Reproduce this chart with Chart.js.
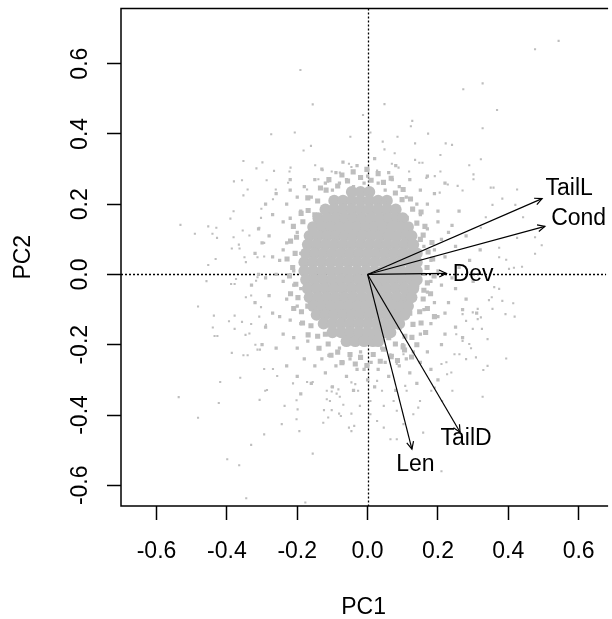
<!DOCTYPE html>
<html>
<head>
<meta charset="utf-8">
<script src="https://cdn.jsdelivr.net/npm/chart.js@4/dist/chart.umd.min.js"></script>
<style>
  html, body { margin: 0; padding: 0; background: #fff; }
</style>
</head>
<body>
<canvas id="biplot" width="612" height="619"></canvas>
<script>
// axis ranges and ticks
const pc1Range = [-0.701, 0.678];
const pc2Range = [-0.659, 0.757];
const pc1Ticks = [-0.6, -0.4, -0.2, 0.0, 0.2, 0.4, 0.6];
const pc2Ticks = [-0.6, -0.4, -0.2, 0.0, 0.2, 0.4, 0.6];

// loadings (arrows) and where their names sit
const varNames = ['TailL', 'Cond', 'Dev', 'TailD', 'Len'];
const loadPC1 = [0.496, 0.504, 0.224, 0.263, 0.126];
const loadPC2 = [0.216, 0.137, 0.003, -0.449, -0.497];
const labelPC1 = [0.573, 0.600, 0.300, 0.280, 0.136];
const labelPC2 = [0.243, 0.158, -0.001, -0.466, -0.542];

// dense middle of the score cloud, one row per PC2 level
const coreRowPC2 = [0.235, 0.21, 0.185, 0.16, 0.135, 0.11, 0.085, 0.06, 0.035, 0.01,
  -0.015, -0.04, -0.065, -0.09, -0.115, -0.14, -0.165, -0.19];
const coreRowPC1 = [
  [-0.045, -0.02, 0.005],
  [-0.095, -0.07, -0.045, -0.02, 0.005, 0.03, 0.055],
  [-0.12, -0.095, -0.07, -0.045, -0.02, 0.005, 0.03, 0.055, 0.08],
  [-0.14, -0.115, -0.09, -0.065, -0.04, -0.015, 0.01, 0.035, 0.06, 0.085, 0.1],
  [-0.155, -0.13, -0.105, -0.08, -0.055, -0.03, -0.005, 0.02, 0.045, 0.07, 0.095, 0.115],
  [-0.165, -0.14, -0.115, -0.09, -0.065, -0.04, -0.015, 0.01, 0.035, 0.06, 0.085, 0.11, 0.125],
  [-0.17, -0.145, -0.12, -0.095, -0.07, -0.045, -0.02, 0.005, 0.03, 0.055, 0.08, 0.105, 0.13],
  [-0.175, -0.15, -0.125, -0.1, -0.075, -0.05, -0.025, 0.0, 0.025, 0.05, 0.075, 0.1, 0.125, 0.14],
  [-0.18, -0.155, -0.13, -0.105, -0.08, -0.055, -0.03, -0.005, 0.02, 0.045, 0.07, 0.095, 0.12, 0.14],
  [-0.18, -0.155, -0.13, -0.105, -0.08, -0.055, -0.03, -0.005, 0.02, 0.045, 0.07, 0.095, 0.12, 0.14],
  [-0.175, -0.15, -0.125, -0.1, -0.075, -0.05, -0.025, 0.0, 0.025, 0.05, 0.075, 0.1, 0.125, 0.14],
  [-0.17, -0.145, -0.12, -0.095, -0.07, -0.045, -0.02, 0.005, 0.03, 0.055, 0.08, 0.105, 0.13],
  [-0.165, -0.14, -0.115, -0.09, -0.065, -0.04, -0.015, 0.01, 0.035, 0.06, 0.085, 0.11, 0.125],
  [-0.155, -0.13, -0.105, -0.08, -0.055, -0.03, -0.005, 0.02, 0.045, 0.07, 0.095, 0.115],
  [-0.145, -0.12, -0.095, -0.07, -0.045, -0.02, 0.005, 0.03, 0.055, 0.08, 0.105],
  [-0.125, -0.1, -0.075, -0.05, -0.025, 0.0, 0.025, 0.05, 0.075, 0.09],
  [-0.1, -0.075, -0.05, -0.025, 0.0, 0.025, 0.05, 0.065],
  [-0.06, -0.035, -0.01, 0.015, 0.03]
];

// thick band of scores right at the edge of the dense middle
const rimScores = [
  [0.169,0.02],[0.172,0.064],[0.158,0.112],[0.140,0.146],[0.128,0.186],[0.098,0.213],[0.079,0.232],
  [0.045,0.262],[0.010,0.268],[-0.02,0.276],[-0.057,0.266],[-0.085,0.252],[-0.118,0.240],[-0.142,0.209],
  [-0.169,0.182],[-0.184,0.150],[-0.202,0.106],[-0.206,0.060],[-0.213,0.02],[-0.204,-0.028],[-0.198,-0.066],
  [-0.188,-0.106],[-0.161,-0.146],[-0.142,-0.176],[-0.112,-0.198],[-0.085,-0.221],[-0.050,-0.228],
  [-0.02,-0.236],[0.016,-0.228],[0.045,-0.213],[0.079,-0.198],[0.106,-0.176],[0.129,-0.142],[0.148,-0.106],
  [0.158,-0.070],[0.170,-0.024],
  [0.185,0.044],[0.183,0.091],[0.163,0.137],[0.152,0.178],[0.122,0.215],[0.101,0.242],[0.067,0.274],
  [0.030,0.287],[-0.002,0.299],[-0.041,0.292],[-0.073,0.283],[-0.110,0.270],[-0.134,0.246],[-0.170,0.218],
  [-0.189,0.174],[-0.211,0.137],[-0.219,0.095],[-0.229,0.044],[-0.222,-0.004],[-0.219,-0.055],[-0.210,-0.097],
  [-0.185,-0.138],[-0.169,-0.172],[-0.138,-0.210],[-0.104,-0.230],[-0.073,-0.251],[-0.035,-0.255],
  [-0.002,-0.259],[0.036,-0.247],[0.067,-0.234],[0.101,-0.206],[0.126,-0.179],[0.152,-0.138],[0.170,-0.097],
  [0.179,-0.055],[0.189,-0.004],
  [0.125,0.05],[0.140,-0.03],[0.110,0.16],[0.06,0.215],[-0.100,0.215],[-0.160,0.12],[-0.170,-0.09],
  [-0.120,-0.170],[0.060,-0.180],[0.120,-0.110],[0.150,0.10],[-0.150,0.170],[0.090,-0.150],[0.160,-0.045],
  [0.105,-0.215],[0.125,-0.235],[0.140,-0.200],[0.165,-0.165],[0.085,-0.245],[0.190,-0.120]
];

// ring of scores around the dense middle
const haloScores = [
  [-0.18,0.25],[-0.15,0.27],[-0.12,0.26],[-0.09,0.29],[-0.06,0.27],[-0.03,0.31],[0.0,0.28],[0.03,0.26],
  [0.06,0.29],[0.09,0.25],[0.12,0.27],[0.15,0.24],[-0.20,0.22],[-0.13,0.30],[-0.07,0.32],[0.02,0.33],
  [0.08,0.31],[0.17,0.28],[-0.04,0.25],[0.05,0.24],[-0.10,0.24],[0.11,0.22],[-0.16,0.22],[0.14,0.20],
  [0.19,0.23],[-0.22,0.27],[0.22,0.26],[-0.01,0.26],[-0.08,0.26],[0.07,0.27],
  [0.15,0.17],[0.17,0.13],[0.16,0.08],[0.18,0.04],[0.16,0.0],[0.17,-0.05],[0.16,-0.10],[0.18,-0.14],
  [0.15,-0.17],[0.20,0.18],[0.21,0.10],[0.22,0.05],[0.20,0.01],[0.21,-0.03],[0.23,-0.08],[0.20,-0.12],
  [0.22,-0.17],[0.24,0.14],[0.25,0.08],[0.26,0.02],[0.25,-0.04],[0.27,-0.10],[0.25,-0.15],[0.28,0.11],
  [0.29,0.04],[0.30,-0.02],[0.28,-0.07],[0.19,0.07],[0.23,0.12],[0.19,-0.08],[0.24,-0.01],[0.17,0.20],
  [0.21,-0.20],[0.26,0.18],[0.27,-0.18],[0.32,0.07],[0.31,-0.11],[0.18,-0.02],[0.20,0.15],[0.22,-0.11],
  [-0.19,0.18],[-0.20,0.12],[-0.19,0.06],[-0.21,0.01],[-0.19,-0.04],[-0.20,-0.09],[-0.19,-0.14],[-0.21,-0.18],
  [-0.23,0.20],[-0.24,0.15],[-0.23,0.09],[-0.25,0.04],[-0.24,-0.02],[-0.23,-0.07],[-0.25,-0.12],[-0.24,-0.17],
  [-0.27,0.17],[-0.28,0.11],[-0.27,0.05],[-0.29,-0.01],[-0.28,-0.06],[-0.27,-0.11],[-0.29,-0.15],[-0.31,0.13],
  [-0.32,0.06],[-0.31,0.00],[-0.32,-0.08],[-0.30,-0.20],[-0.26,-0.21],[-0.22,0.24],[-0.26,0.23],[-0.21,-0.03],
  [-0.22,0.16],[-0.20,-0.21],[-0.26,0.00],[-0.30,0.09],[-0.24,0.07],[-0.22,-0.13],[-0.33,-0.03],[-0.29,0.20],
  [-0.17,-0.19],[-0.14,-0.21],[-0.11,-0.23],[-0.08,-0.21],[-0.05,-0.24],[-0.02,-0.22],[0.01,-0.25],[0.04,-0.21],
  [0.07,-0.23],[0.10,-0.20],[0.13,-0.22],[-0.18,-0.24],[-0.15,-0.26],[-0.12,-0.28],[-0.09,-0.26],[-0.06,-0.29],
  [-0.03,-0.27],[0.00,-0.30],[0.03,-0.27],[0.06,-0.29],[0.09,-0.26],[0.12,-0.28],[0.15,-0.25],[-0.16,-0.31],
  [-0.10,-0.32],[-0.04,-0.33],[0.02,-0.32],[0.08,-0.33],[0.14,-0.31],[0.18,-0.27],[-0.20,-0.29],[-0.13,-0.24],
  [-0.07,-0.25],[0.05,-0.25],[0.11,-0.24],[-0.01,-0.27],[-0.19,-0.34],[0.17,-0.22],[-0.23,-0.26],[0.20,-0.30]
];

// scattered scores read one by one
const outerScores = [
  [-0.191,0.582],[-0.156,0.484],[-0.013,0.454],[-0.274,0.399],[-0.207,0.404],[-0.049,0.392],[-0.161,0.366],
  [-0.182,0.353],[-0.353,0.323],[-0.299,0.319],[-0.316,0.302],[-0.149,0.311],[-0.053,0.315],[-0.266,0.295],
  [-0.219,0.304],[-0.222,0.293],[-0.128,0.297],[-0.102,0.293],[-0.079,0.290],[-0.046,0.306],[-0.380,0.265],
  [-0.357,0.268],[-0.287,0.268],[-0.226,0.261],[-0.140,0.271],[-0.112,0.264],[-0.341,0.242],[-0.353,0.225],
  [-0.261,0.242],[-0.269,0.214],[-0.172,0.242],[-0.381,0.180],[-0.390,0.159],[-0.302,0.187],[-0.532,0.141],
  [-0.491,0.116],[-0.453,0.137],[-0.430,0.133],[-0.441,0.116],[-0.428,0.104],[-0.381,0.106],[-0.355,0.125],
  [-0.336,0.111],[-0.386,0.074],[-0.366,0.085],[-0.364,0.074],[-0.294,0.090],[-0.303,0.161],[-0.308,0.133],
  [0.543,0.665],[0.476,0.641],[0.327,0.544],[0.272,0.527],[0.048,0.485],[0.368,0.468],[0.127,0.437],
  [0.123,0.422],[0.327,0.416],[0.008,0.404],[0.085,0.392],[0.172,0.401],[0.043,0.378],[0.048,0.356],
  [0.135,0.373],[0.222,0.373],[0.240,0.369],[0.077,0.345],[0.207,0.340],[0.135,0.326],[0.147,0.318],
  [0.156,0.318],[0.322,0.328],[0.289,0.311],[0.069,0.315],[0.088,0.304],[0.027,0.296],[0.118,0.293],
  [0.207,0.293],[0.301,0.285],[0.301,0.271],[0.167,0.275],[0.191,0.280],[0.350,0.247],[0.358,0.247],
  [0.425,0.242],[0.383,0.216],[0.270,0.239],[0.228,0.256],[0.256,0.252],[0.205,0.233],[0.355,0.198],
  [0.420,0.198],[0.442,0.163],[0.495,0.083],[0.476,0.106],[0.425,0.104],[0.374,0.076],[0.336,0.163],
  [0.322,0.133],
  [-0.432,0.044],[-0.453,0.027],[-0.458,-0.019],[-0.350,0.049],[-0.346,0.035],[-0.313,0.049],[-0.294,0.051],
  [-0.388,-0.027],[-0.378,-0.027],[-0.374,-0.013],[-0.317,-0.018],[-0.313,-0.008],[-0.346,-0.065],[-0.331,-0.060],
  [-0.482,-0.091],[-0.437,-0.117],[-0.394,-0.133],[-0.378,-0.117],[-0.357,-0.135],[-0.440,-0.151],[-0.435,-0.175],
  [-0.427,-0.175],[-0.378,-0.155],[-0.347,-0.172],[-0.336,-0.168],[-0.331,-0.141],[-0.303,-0.093],[-0.308,-0.120],
  [-0.289,-0.143],[-0.319,-0.200],[-0.313,-0.214],[-0.306,-0.214],[-0.386,-0.223],[-0.353,-0.230],[-0.341,-0.230],
  [-0.294,-0.269],[-0.269,-0.269],[-0.257,-0.289],[-0.362,-0.294],[-0.419,-0.306],[-0.537,-0.349],[-0.423,-0.366],
  [-0.482,-0.408],[-0.291,-0.331],[-0.286,-0.329],[-0.307,-0.357],[-0.236,-0.374],[-0.244,-0.426],[-0.294,-0.455],
  [-0.331,-0.485],[-0.399,-0.526],[-0.365,-0.543],[-0.345,-0.637],[-0.177,-0.649],[-0.156,-0.510],[-0.194,-0.446],
  [-0.202,-0.358],[-0.199,-0.384],[-0.202,-0.412],[-0.212,-0.310],[-0.172,-0.306],[-0.156,-0.306],[-0.126,-0.422],
  [-0.112,-0.407],[-0.124,-0.386],[-0.102,-0.386],[-0.116,-0.331],[-0.102,-0.333],[-0.088,-0.339],[-0.116,-0.355],
  [-0.107,-0.360],[-0.102,-0.320],[-0.083,-0.327],[-0.079,-0.348],[-0.081,-0.396],[-0.076,-0.403],[-0.069,-0.371],
  [-0.046,-0.396],[-0.053,-0.436],[-0.046,-0.446],[-0.038,-0.431],[-0.022,-0.374],[-0.027,-0.331],[-0.046,-0.307],
  [-0.035,-0.312],
  [0.414,-0.082],[0.418,-0.120],[0.392,-0.113],[0.394,-0.239],[0.327,-0.348],[0.241,-0.331],[0.341,-0.260],
  [0.329,-0.272],[0.308,-0.236],[0.294,-0.210],[0.341,-0.184],[0.325,-0.155],[0.313,-0.127],[0.322,-0.122],
  [0.355,-0.098],[0.360,-0.036],[0.374,-0.041],[0.383,-0.075],[0.439,0.022],[0.416,0.019],[0.402,0.016],
  [0.394,0.042],[0.374,0.049],[0.345,-0.073],[0.353,-0.065],[0.210,-0.560],[0.158,-0.450],[0.083,-0.469],
  [0.065,-0.469],[0.046,-0.436],[0.027,-0.417],[0.008,-0.398],[0.008,-0.360],[0.149,-0.360],[0.144,-0.379],
  [0.130,-0.398],[0.212,-0.360],[0.181,-0.331],[0.191,-0.322],[0.226,-0.284],[0.238,-0.279],[0.210,-0.255],
  [0.224,-0.250],[0.247,-0.227],[0.261,-0.227],[0.280,-0.241],[0.270,-0.189],[0.289,-0.198],[0.299,-0.155],
  [0.252,-0.170],[0.299,-0.108],[0.313,-0.098],[0.270,-0.113],[0.280,-0.132],[0.102,-0.227],[0.083,-0.255],
  [0.065,-0.227],[0.107,-0.317],[0.111,-0.331],[0.074,-0.360],[0.046,-0.374],[0.083,-0.388],[0.041,-0.331],
  [0.027,-0.303],[0.102,-0.426],[0.476,0.059]
];

const FONT = 'Liberation Sans, Arial, sans-serif';
const GREY = '#bebebe';

function toPoints(pairs) {
  return pairs.map(p => ({ x: p[0], y: p[1] }));
}

function corePoints() {
  const pts = [];
  coreRowPC2.forEach((y, i) => {
    coreRowPC1[i].forEach(x => pts.push({ x: x, y: y }));
  });
  return pts;
}

// dotted lines through the origin, under the points
const zeroLines = {
  id: 'zeroLines',
  beforeDatasetsDraw(chart) {
    const { ctx, chartArea: a, scales: { x, y } } = chart;
    const x0 = Math.round(x.getPixelForValue(0)) + 0.5;
    const y0 = Math.round(y.getPixelForValue(0)) + 0.5;
    ctx.save();
    ctx.strokeStyle = '#000';
    ctx.lineWidth = 1.3;
    ctx.setLineDash([2, 2]);
    ctx.beginPath();
    ctx.moveTo(a.left, y0); ctx.lineTo(a.right, y0);
    ctx.moveTo(x0, a.top); ctx.lineTo(x0, a.bottom);
    ctx.stroke();
    ctx.restore();
  }
};

// arrow heads, variable names and the box (right side falls off the picture)
const biplotExtras = {
  id: 'biplotExtras',
  afterDatasetsDraw(chart) {
    const { ctx, chartArea: a, scales: { x, y } } = chart;
    ctx.save();
    ctx.strokeStyle = '#000';
    ctx.lineWidth = 1.2;
    const ox = x.getPixelForValue(0);
    const oy = y.getPixelForValue(0);
    varNames.forEach((name, i) => {
      const px = x.getPixelForValue(loadPC1[i]);
      const py = y.getPixelForValue(loadPC2[i]);
      const ang = Math.atan2(py - oy, px - ox);
      const len = 8, spread = Math.PI / 7;
      ctx.beginPath();
      ctx.moveTo(px - len * Math.cos(ang - spread), py - len * Math.sin(ang - spread));
      ctx.lineTo(px, py);
      ctx.lineTo(px - len * Math.cos(ang + spread), py - len * Math.sin(ang + spread));
      ctx.stroke();
    });
    ctx.fillStyle = '#000';
    ctx.font = '23px ' + FONT;
    ctx.textAlign = 'center';
    ctx.textBaseline = 'middle';
    varNames.forEach((name, i) => {
      ctx.fillText(name, x.getPixelForValue(labelPC1[i]), y.getPixelForValue(labelPC2[i]));
    });
    ctx.lineWidth = 1.5;
    ctx.beginPath();
    ctx.moveTo(a.right + 2, a.top);
    ctx.lineTo(a.left, a.top);
    ctx.lineTo(a.left, a.bottom);
    ctx.lineTo(a.right + 2, a.bottom);
    ctx.stroke();
    ctx.restore();
  }
};

const arrowSets = varNames.map((name, i) => ({
  label: name,
  data: [{ x: 0, y: 0 }, { x: loadPC1[i], y: loadPC2[i] }],
  showLine: true,
  borderColor: '#000',
  borderWidth: 1.2,
  pointRadius: 0,
  order: 0
}));

new Chart(document.getElementById('biplot'), {
  type: 'scatter',
  data: {
    datasets: arrowSets.concat([
      { label: 'scores', data: toPoints(outerScores), pointStyle: 'rect', pointRadius: 1.5,
        pointBorderWidth: 0, backgroundColor: GREY, order: 1 },
      { label: 'scores', data: toPoints(haloScores), pointStyle: 'rect', pointRadius: 2.3,
        pointBorderWidth: 0, backgroundColor: GREY, order: 2 },
      { label: 'scores', data: toPoints(rimScores), pointStyle: 'rect', pointRadius: 3.6,
        pointBorderWidth: 0, backgroundColor: GREY, order: 3 },
      { label: 'scores', data: corePoints(), pointStyle: 'circle', pointRadius: 5.9,
        pointBorderWidth: 0, backgroundColor: GREY, order: 4 }
    ])
  },
  options: {
    responsive: false,
    animation: false,
    devicePixelRatio: 1,
    events: [],
    layout: { padding: { top: 8.5, right: 0, bottom: 0, left: 0 } },
    plugins: { legend: { display: false }, tooltip: { enabled: false } },
    scales: {
      x: {
        type: 'linear',
        min: pc1Range[0],
        max: pc1Range[1],
        afterFit: s => { s.height = 113; s.paddingLeft = 0; s.paddingRight = 0; },
        afterBuildTicks: s => { s.ticks = pc1Ticks.map(v => ({ value: v })); },
        grid: { drawOnChartArea: false, drawTicks: true, tickLength: 14, tickColor: '#000', tickWidth: 1.5 },
        border: { display: false },
        ticks: { color: '#000', font: { family: FONT, size: 23, lineHeight: 1 }, padding: 20,
          maxRotation: 0, autoSkip: false, callback: v => v.toFixed(1) },
        title: { display: true, text: 'PC1', color: '#000', font: { family: FONT, size: 23, lineHeight: 1 },
          padding: { top: 0, bottom: 0 } }
      },
      y: {
        type: 'linear',
        min: pc2Range[0],
        max: pc2Range[1],
        afterFit: s => { s.width = 121; s.paddingTop = 0; s.paddingBottom = 0; },
        afterBuildTicks: s => { s.ticks = pc2Ticks.map(v => ({ value: v })); },
        grid: { drawOnChartArea: false, drawTicks: true, tickLength: 14, tickColor: '#000', tickWidth: 1.5 },
        border: { display: false },
        ticks: { color: '#000', font: { family: FONT, size: 23, lineHeight: 1 }, padding: 6.7,
          minRotation: 90, maxRotation: 90, crossAlign: 'center', autoSkip: false,
          callback: v => v.toFixed(1) },
        title: { display: true, text: 'PC2', color: '#000', font: { family: FONT, size: 23, lineHeight: 1 },
          padding: { top: 12, bottom: 0 } }
      }
    }
  },
  plugins: [zeroLines, biplotExtras]
});
</script>
</body>
</html>
